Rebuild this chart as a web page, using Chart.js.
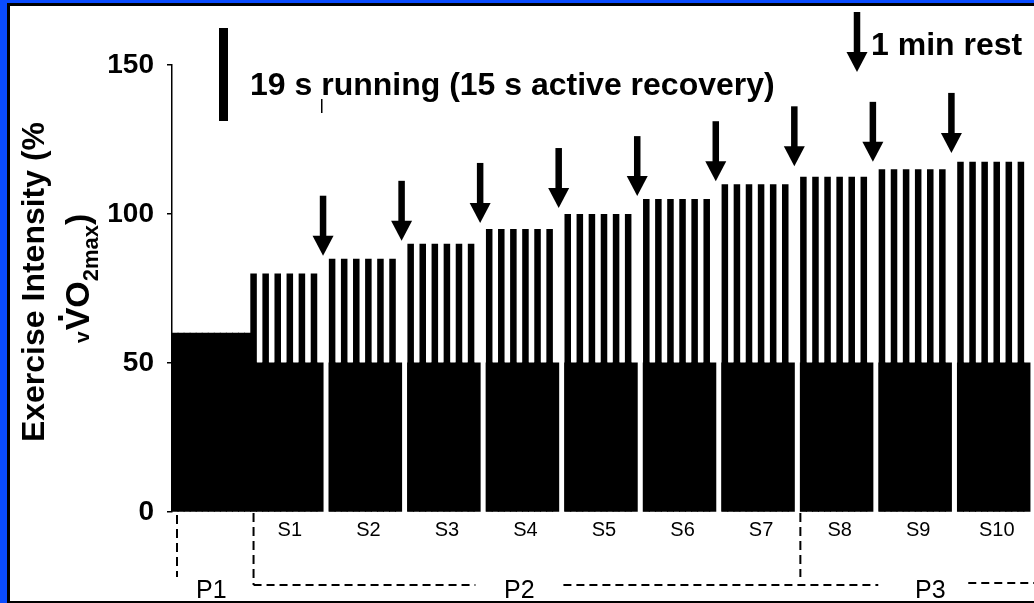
<!DOCTYPE html>
<html>
<head>
<meta charset="utf-8">
<script src="https://cdn.jsdelivr.net/npm/chart.js@4/dist/chart.umd.min.js"></script>
<style>
  body { margin: 0; background: #fff; }
  #wrap { width: 1034px; height: 603px; overflow: hidden; position: relative; }
  canvas { display: block; }
</style>
</head>
<body>
<div id="wrap"><canvas id="chart" width="1040" height="603"></canvas></div>
<script>
// DATA ----------------------------------------------------
const setLabels = ['S1', 'S2', 'S3', 'S4', 'S5', 'S6', 'S7', 'S8', 'S9', 'S10'];
const setIntensity = [80, 85, 90, 95, 100, 105, 110, 112.5, 115, 117.5]; // 19 s runs, % vVO2max
const warmupIntensity = 60;    // P1
const recoveryIntensity = 50;  // 15 s active recovery
const repsPerSet = 6;
const arrowTips = [86, 91, 97, 102, 106, 111, 116, 117.5, 120.5]; // "1 min rest" arrows after S1..S9
const phaseLabels = ['P1', 'P2', 'P3'];
const yTicks = [0, 50, 100, 150];

// one block = 6 runs + 6 recoveries + the rest gap
const SLOTS = 2 * repsPerSet + 1;
const FONT = "'Liberation Sans', Arial, sans-serif";

// slot table built from the arrays above
let slotLabels = [], warmData = [], recoveryData = [], runData = [];
for (let j = 0; j < SLOTS; j++) {
	slotLabels.push('');
	warmData.push(warmupIntensity);
	recoveryData.push(null);
	runData.push(null);
}
setIntensity.forEach((v, k) => {
	for (let j = 0; j < SLOTS; j++) {
		slotLabels.push(j == repsPerSet ? setLabels[k] : '');
		warmData.push(null);
		recoveryData.push(j < 2 * repsPerSet ? recoveryIntensity : null);
		runData.push(j < 2 * repsPerSet && j % 2 == 0 ? v : null);
	}
});

// DECORATIONS: frame, legend, arrows, phase brackets, y title ----------
function arrow(c, x, tip, len) {
	const shaft = 6.5, headW = 21, headL = 20;
	c.fillRect(x - shaft / 2, tip - len, shaft, len - headL + 1);
	c.beginPath();
	c.moveTo(x - headW / 2, tip - headL);
	c.lineTo(x + headW / 2, tip - headL);
	c.lineTo(x, tip);
	c.closePath();
	c.fill();
}

function dashed(c, x1, y1, x2, y2, pattern) {
	c.save();
	c.setLineDash(pattern);
	c.lineWidth = 2;
	c.strokeStyle = '#000';
	c.beginPath();
	c.moveTo(x1, y1);
	c.lineTo(x2, y2);
	c.stroke();
	c.restore();
}

const decor = {
	id: 'decor',
	beforeDraw(chart) {
		const c = chart.ctx;
		c.save();
		c.fillStyle = '#fff';
		c.fillRect(0, 0, chart.width, chart.height);
		c.restore();
	},
	afterDraw(chart) {
		const c = chart.ctx, xs = chart.scales.x, ys = chart.scales.y, area = chart.chartArea;
		const w = xs.width / slotLabels.length;
		const slotLeft = i => xs.getPixelForValue(i) - w / 2;
		c.save();

		// frame
		c.fillStyle = '#0a4cff';
		c.fillRect(0, 0, 7, chart.height);
		c.fillRect(0, 0, chart.width, 3);
		c.fillStyle = '#000';
		c.fillRect(7, 3, 3, chart.height);
		c.fillRect(7, 3, chart.width, 3);
		c.fillRect(7, 601, chart.width, 2);

		c.fillStyle = '#000';
		// legend: one run stripe
		c.fillRect(219, 28, 9, 93);
		c.fillRect(321, 99, 1.5, 14);
		c.font = 'bold 32px ' + FONT;
		c.textAlign = 'left';
		c.textBaseline = 'alphabetic';
		c.fillText('19 s running (15 s active recovery)', 250, 95);
		arrow(c, 857, 72, 60);
		c.fillText('1 min rest', 871, 55);

		// rest arrows between sets
		arrowTips.forEach((v, k) => {
			const x = slotLeft(SLOTS * (k + 1) + 2 * repsPerSet);
			arrow(c, x, ys.getPixelForValue(v), 60);
		});

		// phase brackets
		const b = area.bottom;
		const p2x = slotLeft(SLOTS) + 3;
		const p3x = slotLeft(SLOTS * 8);
		const lineY = b + 73;
		const p2c = slotLeft(57.5), p3c = slotLeft(125.5);
		dashed(c, area.left + 5, b + 3, area.left + 5, b + 65, [9, 5]);
		dashed(c, p2x, b + 1, p2x, lineY, [9, 5]);
		dashed(c, p2x, lineY, p2c - 44, lineY, [8, 5]);
		dashed(c, p2c + 44, lineY, p3c - 52, lineY, [8, 5]);
		dashed(c, p3c + 38, lineY - 2, chart.width, lineY - 2, [8, 5]);
		dashed(c, p3x, b + 1, p3x, b + 65, [9, 5]);
		c.font = '25px ' + FONT;
		c.textAlign = 'center';
		c.fillText(phaseLabels[0], (area.left + 5 + p2x) / 2 - 4, 598);
		c.fillText(phaseLabels[1], p2c, 598);
		c.fillText(phaseLabels[2], p3c, 598);

		// y axis title, two lines
		c.save();
		c.translate(44, 282);
		c.rotate(-Math.PI / 2);
		c.font = 'bold 32px ' + FONT;
		c.textAlign = 'center';
		c.fillText('Exercise Intensity (%', 0, 0);
		c.restore();

		c.save();
		c.translate(89, 343);
		c.rotate(-Math.PI / 2);
		c.textAlign = 'left';
		let px = 0;
		c.font = 'bold 21px ' + FONT;
		c.fillText('v', px, 0);
		px += c.measureText('v').width + 1;
		c.font = 'bold 34px ' + FONT;
		const vw = c.measureText('V').width;
		c.fillText('V', px, 0);
		c.textAlign = 'center';
		c.fillText('.', px + vw / 2 + 1, -26);
		c.textAlign = 'left';
		px += vw;
		c.fillText('O', px, 0);
		px += c.measureText('O').width;
		c.font = 'bold 22px ' + FONT;
		c.fillText('2max', px, 9);
		px += c.measureText('2max').width;
		c.font = 'bold 34px ' + FONT;
		c.fillText(')', px, 0);
		c.restore();

		c.restore();
	}
};

// CHART ---------------------------------------------------
const barStyle = {
	backgroundColor: '#000',
	borderWidth: 0,
	grouped: false,
	categoryPercentage: 1,
};

new Chart(document.getElementById('chart'), {
	type: 'bar',
	data: {
		labels: slotLabels,
		datasets: [
			{ ...barStyle, label: 'P1', data: warmData, barPercentage: 1, inflateAmount: 0.5 },
			{ ...barStyle, label: 'recovery', data: recoveryData, barPercentage: 1, inflateAmount: 0.5 },
			{ ...barStyle, label: 'running', data: runData, barPercentage: 1.08 },
		],
	},
	options: {
		responsive: false,
		animation: false,
		layout: { padding: { top: 65, right: 4, bottom: 0, left: 0 } },
		plugins: {
			legend: { display: false },
			tooltip: { enabled: false },
		},
		scales: {
			x: {
				grid: { display: false, drawTicks: false },
				border: { display: false },
				ticks: {
					autoSkip: false,
					maxRotation: 0,
					minRotation: 0,
					padding: 6,
					color: '#000',
					font: { family: FONT, size: 20 },
				},
				afterFit: s => { s.height = 91; },
			},
			y: {
				min: 0,
				max: 150,
				afterBuildTicks: s => { s.ticks = yTicks.map(v => ({ value: v })); },
				grid: { drawOnChartArea: false, drawTicks: true, tickLength: 5, color: '#000', lineWidth: 1.5 },
				border: { display: true, color: '#000', width: 1.5 },
				ticks: {
					padding: 13,
					color: '#000',
					font: { family: FONT, size: 28, weight: 'bold' },
				},
				afterFit: s => { s.width = 172; },
			},
		},
	},
	plugins: [decor],
});
</script>
</body>
</html>
